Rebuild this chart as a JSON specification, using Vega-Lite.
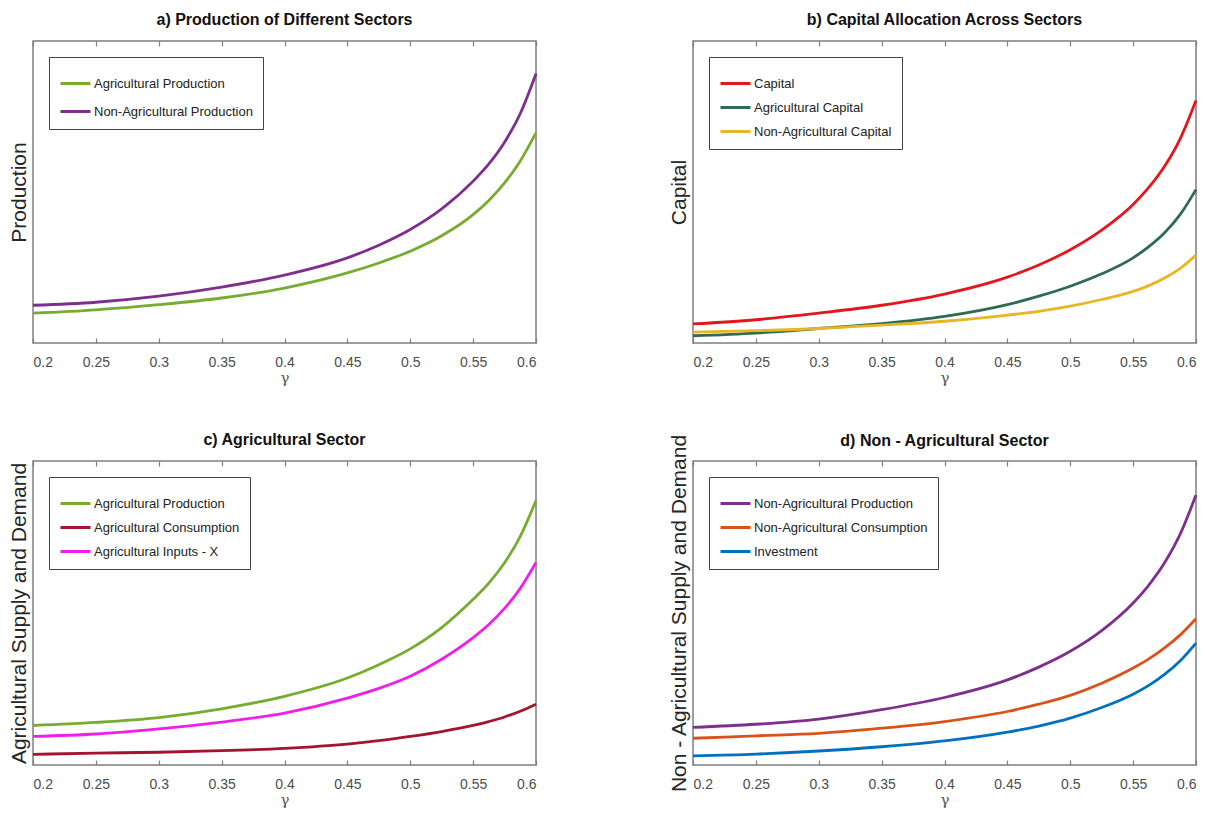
{
  "$schema": "https://vega.github.io/schema/vega-lite/v6.json",
  "background": "white",
  "padding": {"left": 7, "top": 11, "right": 10, "bottom": 5},
  "config": {
    "font": "Liberation Sans",
    "view": {"stroke": "#7f7f7f", "strokeWidth": 1.5},
    "title": {"font": "Liberation Sans", "fontSize": 16, "fontWeight": "bold", "color": "#111", "offset": 12, "frame": "group"},
    "axis": {"grid": false, "domain": false},
    "axisX": {"format": "~g", "tickSize": -5, "tickColor": "#7f7f7f", "tickWidth": 1.2, "labelFont": "Liberation Sans", "labelFontSize": 14, "labelColor": "#4d4d4d", "labelPadding": 17, "titleFont": "DejaVu Serif", "titleFontSize": 15, "titleFontWeight": "normal", "titleColor": "#555", "titlePadding": 1},
    "axisY": {"labels": false, "ticks": false, "titleFont": "Liberation Sans", "titleFontSize": 21, "titleFontWeight": "normal", "titleColor": "#262626", "titlePadding": 4},
    "legend": {"orient": "top-left", "offset": 16, "title": null, "symbolType": "stroke", "symbolStrokeWidth": 3, "symbolSize": 900, "strokeColor": "#444", "fillColor": "white", "padding": 10, "rowPadding": 0, "labelFont": "Liberation Sans", "labelFontSize": 13, "labelColor": "#222", "labelOffset": 2, "labelLimit": 400}
  },
  "datasets": {
    "curves": [
      {"p": "a", "s": "Agricultural Production", "g": 0.2, "v": 0.099},
      {"p": "a", "s": "Agricultural Production", "g": 0.25, "v": 0.110},
      {"p": "a", "s": "Agricultural Production", "g": 0.3, "v": 0.127},
      {"p": "a", "s": "Agricultural Production", "g": 0.35, "v": 0.149},
      {"p": "a", "s": "Agricultural Production", "g": 0.4, "v": 0.182},
      {"p": "a", "s": "Agricultural Production", "g": 0.45, "v": 0.232},
      {"p": "a", "s": "Agricultural Production", "g": 0.475, "v": 0.265},
      {"p": "a", "s": "Agricultural Production", "g": 0.5, "v": 0.304},
      {"p": "a", "s": "Agricultural Production", "g": 0.525, "v": 0.355},
      {"p": "a", "s": "Agricultural Production", "g": 0.55, "v": 0.425},
      {"p": "a", "s": "Agricultural Production", "g": 0.5625, "v": 0.472},
      {"p": "a", "s": "Agricultural Production", "g": 0.575, "v": 0.530},
      {"p": "a", "s": "Agricultural Production", "g": 0.5875, "v": 0.603},
      {"p": "a", "s": "Agricultural Production", "g": 0.6, "v": 0.696},
      {"p": "a", "s": "Non-Agricultural Production", "g": 0.2, "v": 0.125},
      {"p": "a", "s": "Non-Agricultural Production", "g": 0.25, "v": 0.135},
      {"p": "a", "s": "Non-Agricultural Production", "g": 0.3, "v": 0.155},
      {"p": "a", "s": "Non-Agricultural Production", "g": 0.35, "v": 0.185},
      {"p": "a", "s": "Non-Agricultural Production", "g": 0.4, "v": 0.225},
      {"p": "a", "s": "Non-Agricultural Production", "g": 0.45, "v": 0.282},
      {"p": "a", "s": "Non-Agricultural Production", "g": 0.475, "v": 0.324},
      {"p": "a", "s": "Non-Agricultural Production", "g": 0.5, "v": 0.376},
      {"p": "a", "s": "Non-Agricultural Production", "g": 0.525, "v": 0.444},
      {"p": "a", "s": "Non-Agricultural Production", "g": 0.55, "v": 0.536},
      {"p": "a", "s": "Non-Agricultural Production", "g": 0.5625, "v": 0.593},
      {"p": "a", "s": "Non-Agricultural Production", "g": 0.575, "v": 0.665},
      {"p": "a", "s": "Non-Agricultural Production", "g": 0.5875, "v": 0.760},
      {"p": "a", "s": "Non-Agricultural Production", "g": 0.6, "v": 0.892},

      {"p": "b", "s": "Capital", "g": 0.2, "v": 0.063},
      {"p": "b", "s": "Capital", "g": 0.25, "v": 0.077},
      {"p": "b", "s": "Capital", "g": 0.3, "v": 0.099},
      {"p": "b", "s": "Capital", "g": 0.35, "v": 0.125},
      {"p": "b", "s": "Capital", "g": 0.4, "v": 0.162},
      {"p": "b", "s": "Capital", "g": 0.45, "v": 0.218},
      {"p": "b", "s": "Capital", "g": 0.475, "v": 0.258},
      {"p": "b", "s": "Capital", "g": 0.5, "v": 0.309},
      {"p": "b", "s": "Capital", "g": 0.525, "v": 0.374},
      {"p": "b", "s": "Capital", "g": 0.55, "v": 0.459},
      {"p": "b", "s": "Capital", "g": 0.5625, "v": 0.515},
      {"p": "b", "s": "Capital", "g": 0.575, "v": 0.585},
      {"p": "b", "s": "Capital", "g": 0.5875, "v": 0.677},
      {"p": "b", "s": "Capital", "g": 0.6, "v": 0.803},
      {"p": "b", "s": "Agricultural Capital", "g": 0.2, "v": 0.024},
      {"p": "b", "s": "Agricultural Capital", "g": 0.25, "v": 0.033},
      {"p": "b", "s": "Agricultural Capital", "g": 0.3, "v": 0.048},
      {"p": "b", "s": "Agricultural Capital", "g": 0.35, "v": 0.064},
      {"p": "b", "s": "Agricultural Capital", "g": 0.4, "v": 0.088},
      {"p": "b", "s": "Agricultural Capital", "g": 0.45, "v": 0.127},
      {"p": "b", "s": "Agricultural Capital", "g": 0.475, "v": 0.155},
      {"p": "b", "s": "Agricultural Capital", "g": 0.5, "v": 0.188},
      {"p": "b", "s": "Agricultural Capital", "g": 0.525, "v": 0.229},
      {"p": "b", "s": "Agricultural Capital", "g": 0.55, "v": 0.282},
      {"p": "b", "s": "Agricultural Capital", "g": 0.5625, "v": 0.319},
      {"p": "b", "s": "Agricultural Capital", "g": 0.575, "v": 0.365},
      {"p": "b", "s": "Agricultural Capital", "g": 0.5875, "v": 0.426},
      {"p": "b", "s": "Agricultural Capital", "g": 0.6, "v": 0.508},
      {"p": "b", "s": "Non-Agricultural Capital", "g": 0.2, "v": 0.036},
      {"p": "b", "s": "Non-Agricultural Capital", "g": 0.25, "v": 0.041},
      {"p": "b", "s": "Non-Agricultural Capital", "g": 0.3, "v": 0.048},
      {"p": "b", "s": "Non-Agricultural Capital", "g": 0.35, "v": 0.059},
      {"p": "b", "s": "Non-Agricultural Capital", "g": 0.4, "v": 0.072},
      {"p": "b", "s": "Non-Agricultural Capital", "g": 0.45, "v": 0.092},
      {"p": "b", "s": "Non-Agricultural Capital", "g": 0.475, "v": 0.105},
      {"p": "b", "s": "Non-Agricultural Capital", "g": 0.5, "v": 0.122},
      {"p": "b", "s": "Non-Agricultural Capital", "g": 0.525, "v": 0.144},
      {"p": "b", "s": "Non-Agricultural Capital", "g": 0.55, "v": 0.171},
      {"p": "b", "s": "Non-Agricultural Capital", "g": 0.5625, "v": 0.190},
      {"p": "b", "s": "Non-Agricultural Capital", "g": 0.575, "v": 0.215},
      {"p": "b", "s": "Non-Agricultural Capital", "g": 0.5875, "v": 0.247},
      {"p": "b", "s": "Non-Agricultural Capital", "g": 0.6, "v": 0.291},

      {"p": "c", "s": "Agricultural Production", "g": 0.2, "v": 0.130},
      {"p": "c", "s": "Agricultural Production", "g": 0.25, "v": 0.140},
      {"p": "c", "s": "Agricultural Production", "g": 0.3, "v": 0.156},
      {"p": "c", "s": "Agricultural Production", "g": 0.35, "v": 0.185},
      {"p": "c", "s": "Agricultural Production", "g": 0.4, "v": 0.226},
      {"p": "c", "s": "Agricultural Production", "g": 0.45, "v": 0.286},
      {"p": "c", "s": "Agricultural Production", "g": 0.475, "v": 0.330},
      {"p": "c", "s": "Agricultural Production", "g": 0.5, "v": 0.382},
      {"p": "c", "s": "Agricultural Production", "g": 0.525, "v": 0.452},
      {"p": "c", "s": "Agricultural Production", "g": 0.55, "v": 0.545},
      {"p": "c", "s": "Agricultural Production", "g": 0.5625, "v": 0.598},
      {"p": "c", "s": "Agricultural Production", "g": 0.575, "v": 0.665},
      {"p": "c", "s": "Agricultural Production", "g": 0.5875, "v": 0.752},
      {"p": "c", "s": "Agricultural Production", "g": 0.6, "v": 0.870},
      {"p": "c", "s": "Agricultural Consumption", "g": 0.2, "v": 0.035},
      {"p": "c", "s": "Agricultural Consumption", "g": 0.25, "v": 0.039},
      {"p": "c", "s": "Agricultural Consumption", "g": 0.3, "v": 0.042},
      {"p": "c", "s": "Agricultural Consumption", "g": 0.35, "v": 0.047},
      {"p": "c", "s": "Agricultural Consumption", "g": 0.4, "v": 0.055},
      {"p": "c", "s": "Agricultural Consumption", "g": 0.45, "v": 0.069},
      {"p": "c", "s": "Agricultural Consumption", "g": 0.475, "v": 0.080},
      {"p": "c", "s": "Agricultural Consumption", "g": 0.5, "v": 0.094},
      {"p": "c", "s": "Agricultural Consumption", "g": 0.525, "v": 0.110},
      {"p": "c", "s": "Agricultural Consumption", "g": 0.55, "v": 0.130},
      {"p": "c", "s": "Agricultural Consumption", "g": 0.5625, "v": 0.143},
      {"p": "c", "s": "Agricultural Consumption", "g": 0.575, "v": 0.158},
      {"p": "c", "s": "Agricultural Consumption", "g": 0.5875, "v": 0.177},
      {"p": "c", "s": "Agricultural Consumption", "g": 0.6, "v": 0.200},
      {"p": "c", "s": "Agricultural Inputs - X", "g": 0.2, "v": 0.094},
      {"p": "c", "s": "Agricultural Inputs - X", "g": 0.25, "v": 0.102},
      {"p": "c", "s": "Agricultural Inputs - X", "g": 0.3, "v": 0.119},
      {"p": "c", "s": "Agricultural Inputs - X", "g": 0.35, "v": 0.141},
      {"p": "c", "s": "Agricultural Inputs - X", "g": 0.4, "v": 0.171},
      {"p": "c", "s": "Agricultural Inputs - X", "g": 0.45, "v": 0.220},
      {"p": "c", "s": "Agricultural Inputs - X", "g": 0.475, "v": 0.252},
      {"p": "c", "s": "Agricultural Inputs - X", "g": 0.5, "v": 0.292},
      {"p": "c", "s": "Agricultural Inputs - X", "g": 0.525, "v": 0.348},
      {"p": "c", "s": "Agricultural Inputs - X", "g": 0.55, "v": 0.419},
      {"p": "c", "s": "Agricultural Inputs - X", "g": 0.5625, "v": 0.462},
      {"p": "c", "s": "Agricultural Inputs - X", "g": 0.575, "v": 0.515},
      {"p": "c", "s": "Agricultural Inputs - X", "g": 0.5875, "v": 0.581},
      {"p": "c", "s": "Agricultural Inputs - X", "g": 0.6, "v": 0.666},

      {"p": "d", "s": "Non-Agricultural Production", "g": 0.2, "v": 0.124},
      {"p": "d", "s": "Non-Agricultural Production", "g": 0.25, "v": 0.134},
      {"p": "d", "s": "Non-Agricultural Production", "g": 0.3, "v": 0.151},
      {"p": "d", "s": "Non-Agricultural Production", "g": 0.35, "v": 0.182},
      {"p": "d", "s": "Non-Agricultural Production", "g": 0.4, "v": 0.222},
      {"p": "d", "s": "Non-Agricultural Production", "g": 0.45, "v": 0.280},
      {"p": "d", "s": "Non-Agricultural Production", "g": 0.475, "v": 0.322},
      {"p": "d", "s": "Non-Agricultural Production", "g": 0.5, "v": 0.374},
      {"p": "d", "s": "Non-Agricultural Production", "g": 0.525, "v": 0.442},
      {"p": "d", "s": "Non-Agricultural Production", "g": 0.55, "v": 0.533},
      {"p": "d", "s": "Non-Agricultural Production", "g": 0.5625, "v": 0.592},
      {"p": "d", "s": "Non-Agricultural Production", "g": 0.575, "v": 0.665},
      {"p": "d", "s": "Non-Agricultural Production", "g": 0.5875, "v": 0.760},
      {"p": "d", "s": "Non-Agricultural Production", "g": 0.6, "v": 0.888},
      {"p": "d", "s": "Non-Agricultural Consumption", "g": 0.2, "v": 0.088},
      {"p": "d", "s": "Non-Agricultural Consumption", "g": 0.25, "v": 0.096},
      {"p": "d", "s": "Non-Agricultural Consumption", "g": 0.3, "v": 0.104},
      {"p": "d", "s": "Non-Agricultural Consumption", "g": 0.35, "v": 0.121},
      {"p": "d", "s": "Non-Agricultural Consumption", "g": 0.4, "v": 0.143},
      {"p": "d", "s": "Non-Agricultural Consumption", "g": 0.45, "v": 0.176},
      {"p": "d", "s": "Non-Agricultural Consumption", "g": 0.475, "v": 0.200},
      {"p": "d", "s": "Non-Agricultural Consumption", "g": 0.5, "v": 0.229},
      {"p": "d", "s": "Non-Agricultural Consumption", "g": 0.525, "v": 0.269},
      {"p": "d", "s": "Non-Agricultural Consumption", "g": 0.55, "v": 0.319},
      {"p": "d", "s": "Non-Agricultural Consumption", "g": 0.5625, "v": 0.349},
      {"p": "d", "s": "Non-Agricultural Consumption", "g": 0.575, "v": 0.385},
      {"p": "d", "s": "Non-Agricultural Consumption", "g": 0.5875, "v": 0.428},
      {"p": "d", "s": "Non-Agricultural Consumption", "g": 0.6, "v": 0.481},
      {"p": "d", "s": "Investment", "g": 0.2, "v": 0.030},
      {"p": "d", "s": "Investment", "g": 0.25, "v": 0.036},
      {"p": "d", "s": "Investment", "g": 0.3, "v": 0.046},
      {"p": "d", "s": "Investment", "g": 0.35, "v": 0.060},
      {"p": "d", "s": "Investment", "g": 0.4, "v": 0.079},
      {"p": "d", "s": "Investment", "g": 0.45, "v": 0.108},
      {"p": "d", "s": "Investment", "g": 0.475, "v": 0.128},
      {"p": "d", "s": "Investment", "g": 0.5, "v": 0.154},
      {"p": "d", "s": "Investment", "g": 0.525, "v": 0.189},
      {"p": "d", "s": "Investment", "g": 0.55, "v": 0.233},
      {"p": "d", "s": "Investment", "g": 0.5625, "v": 0.262},
      {"p": "d", "s": "Investment", "g": 0.575, "v": 0.298},
      {"p": "d", "s": "Investment", "g": 0.5875, "v": 0.343},
      {"p": "d", "s": "Investment", "g": 0.6, "v": 0.401}
    ]
  },
  "columns": 2,
  "bounds": "flush",
  "spacing": {"row": 118, "column": 157},
  "resolve": {"scale": {"color": "independent"}, "legend": {"color": "independent"}},
  "concat": [
    {
      "title": "a) Production of Different Sectors",
      "width": 503, "height": 302,
      "data": {"name": "curves"},
      "transform": [{"filter": "datum.p === 'a'"}],
      "layer": [
        {
          "mark": {"type": "line", "strokeWidth": 2.8, "interpolate": "monotone"},
          "encoding": {
            "x": {"field": "g", "type": "quantitative", "scale": {"domain": [0.2, 0.6], "nice": false, "zero": false}, "axis": {"title": "γ", "values": [0.2, 0.25, 0.3, 0.35, 0.4, 0.45, 0.5, 0.55, 0.6]}},
            "y": {"field": "v", "type": "quantitative", "scale": {"domain": [0, 1], "nice": false}, "axis": {"title": "Production"}},
            "color": {"field": "s", "type": "nominal", "scale": {"domain": ["Agricultural Production", "Non-Agricultural Production"], "range": ["#77ac30", "#7e2f8e"]}, "legend": {"rowPadding": 4}}
          }
        },
        {
          "mark": {"type": "line", "opacity": 0},
          "encoding": {
            "x": {"field": "g", "type": "quantitative", "axis": {"orient": "top", "labels": false, "title": null, "values": [0.2, 0.25, 0.3, 0.35, 0.4, 0.45, 0.5, 0.55, 0.6]}},
            "y": {"field": "v", "type": "quantitative", "axis": null},
            "detail": {"field": "s"}
          }
        }
      ],
      "resolve": {"axis": {"x": "independent", "y": "independent"}}
    },
    {
      "title": "b) Capital Allocation Across Sectors",
      "width": 503, "height": 302,
      "data": {"name": "curves"},
      "transform": [{"filter": "datum.p === 'b'"}],
      "layer": [
        {
          "mark": {"type": "line", "strokeWidth": 2.8, "interpolate": "monotone"},
          "encoding": {
            "x": {"field": "g", "type": "quantitative", "scale": {"domain": [0.2, 0.6], "nice": false, "zero": false}, "axis": {"title": "γ", "values": [0.2, 0.25, 0.3, 0.35, 0.4, 0.45, 0.5, 0.55, 0.6]}},
            "y": {"field": "v", "type": "quantitative", "scale": {"domain": [0, 1], "nice": false}, "axis": {"title": "Capital"}},
            "color": {"field": "s", "type": "nominal", "scale": {"domain": ["Capital", "Agricultural Capital", "Non-Agricultural Capital"], "range": ["#e5151c", "#2f6b4f", "#e8b624"]}, "legend": {}}
          }
        },
        {
          "mark": {"type": "line", "opacity": 0},
          "encoding": {
            "x": {"field": "g", "type": "quantitative", "axis": {"orient": "top", "labels": false, "title": null, "values": [0.2, 0.25, 0.3, 0.35, 0.4, 0.45, 0.5, 0.55, 0.6]}},
            "y": {"field": "v", "type": "quantitative", "axis": null},
            "detail": {"field": "s"}
          }
        }
      ],
      "resolve": {"axis": {"x": "independent", "y": "independent"}}
    },
    {
      "title": "c) Agricultural Sector",
      "width": 503, "height": 304,
      "data": {"name": "curves"},
      "transform": [{"filter": "datum.p === 'c'"}],
      "layer": [
        {
          "mark": {"type": "line", "strokeWidth": 2.8, "interpolate": "monotone"},
          "encoding": {
            "x": {"field": "g", "type": "quantitative", "scale": {"domain": [0.2, 0.6], "nice": false, "zero": false}, "axis": {"title": "γ", "values": [0.2, 0.25, 0.3, 0.35, 0.4, 0.45, 0.5, 0.55, 0.6]}},
            "y": {"field": "v", "type": "quantitative", "scale": {"domain": [0, 1], "nice": false}, "axis": {"title": "Agricultural Supply and Demand"}},
            "color": {"field": "s", "type": "nominal", "scale": {"domain": ["Agricultural Production", "Agricultural Consumption", "Agricultural Inputs - X"], "range": ["#77ac30", "#a2142f", "#f01ee8"]}, "legend": {}}
          }
        },
        {
          "mark": {"type": "line", "opacity": 0},
          "encoding": {
            "x": {"field": "g", "type": "quantitative", "axis": {"orient": "top", "labels": false, "title": null, "values": [0.2, 0.25, 0.3, 0.35, 0.4, 0.45, 0.5, 0.55, 0.6]}},
            "y": {"field": "v", "type": "quantitative", "axis": null},
            "detail": {"field": "s"}
          }
        }
      ],
      "resolve": {"axis": {"x": "independent", "y": "independent"}}
    },
    {
      "title": {"text": "d) Non - Agricultural Sector", "dy": 27},
      "width": 503, "height": 304,
      "data": {"name": "curves"},
      "transform": [{"filter": "datum.p === 'd'"}],
      "layer": [
        {
          "mark": {"type": "line", "strokeWidth": 2.8, "interpolate": "monotone"},
          "encoding": {
            "x": {"field": "g", "type": "quantitative", "scale": {"domain": [0.2, 0.6], "nice": false, "zero": false}, "axis": {"title": "γ", "values": [0.2, 0.25, 0.3, 0.35, 0.4, 0.45, 0.5, 0.55, 0.6]}},
            "y": {"field": "v", "type": "quantitative", "scale": {"domain": [0, 1], "nice": false}, "axis": {"title": "Non - Agricultural Supply and Demand"}},
            "color": {"field": "s", "type": "nominal", "scale": {"domain": ["Non-Agricultural Production", "Non-Agricultural Consumption", "Investment"], "range": ["#7e2f8e", "#d95319", "#0072bd"]}, "legend": {}}
          }
        },
        {
          "mark": {"type": "line", "opacity": 0},
          "encoding": {
            "x": {"field": "g", "type": "quantitative", "axis": {"orient": "top", "labels": false, "title": null, "values": [0.2, 0.25, 0.3, 0.35, 0.4, 0.45, 0.5, 0.55, 0.6]}},
            "y": {"field": "v", "type": "quantitative", "axis": null},
            "detail": {"field": "s"}
          }
        }
      ],
      "resolve": {"axis": {"x": "independent", "y": "independent"}}
    }
  ]
}
